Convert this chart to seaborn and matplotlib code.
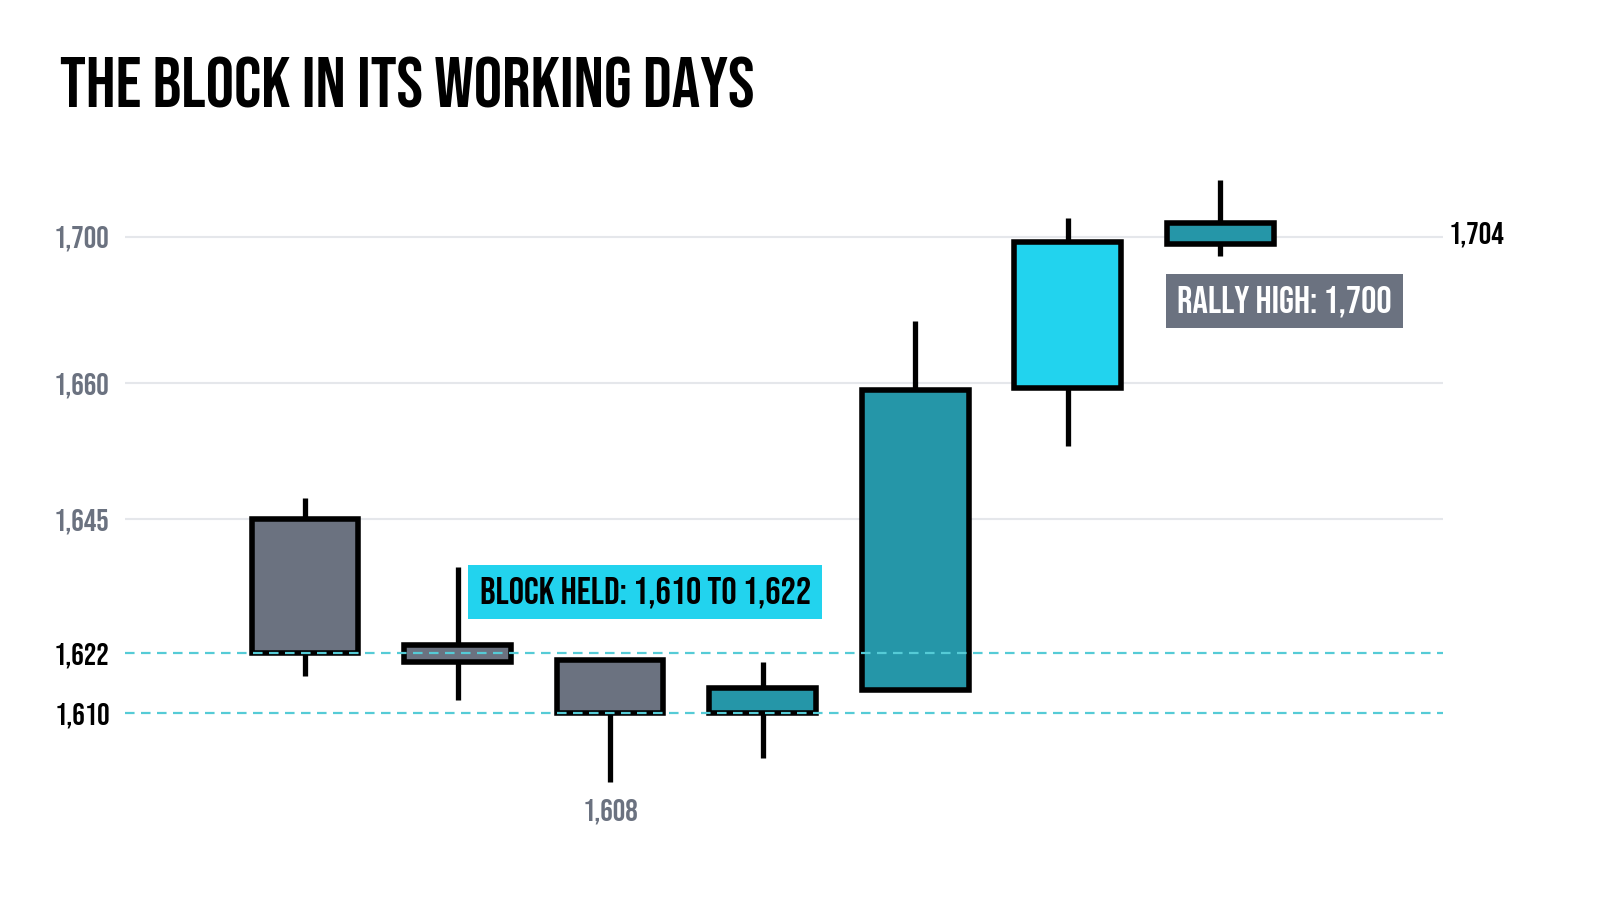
import numpy as np
import matplotlib
matplotlib.use("Agg")
import matplotlib.pyplot as plt
import matplotlib.transforms as mtransforms
import seaborn as sns

# ---- data ----
days = [0, 1, 2, 3, 4, 5, 6]
opens = [1645.0, 1623.4, 1620.6, 1610.0, 1614.6, 1659.4, 1698.1]
closes = [1622.0, 1620.2, 1610.0, 1615.0, 1659.2, 1698.6, 1701.0]
highs = [1647.3, 1636.8, 1620.6, 1620.2, 1677.0, 1701.3, 1704.0]
lows = [1617.4, 1612.6, 1608.0, 1608.7, 1614.6, 1653.0, 1694.8]
tick_values = [1610, 1622, 1645, 1660, 1700]
tick_labels = ["1,610", "1,622", "1,645", "1,660", "1,700"]
block_low, block_high = 1610, 1622
rally_high_label = "RALLY HIGH: 1,700"
block_label = "BLOCK HELD: 1,610 TO 1,622"
last_label = "1,704"
low_label = "1,608"
highlight_day = 5

# ---- scale (piecewise, emphasises the block zone) ----
scale_vals = np.array([1600, 1608, 1610, 1622, 1645, 1660, 1700, 1704, 1712])
scale_pos = np.array([1058, 782, 713, 653, 519, 383, 237, 180, 66])


def fwd(v):
    return -np.interp(v, scale_vals, scale_pos)


def inv(u):
    return np.interp(u, -scale_pos, scale_vals)


sns.set_theme(style="white")
cond = ["Bebas Neue", "Oswald", "DejaVu Sans"]
plt.rcParams["font.family"] = cond

GRAY = "#6b7280"
TEAL = "#2596a8"
CYAN = "#22d3ee"
DASH = "#55cbd6"

fig = plt.figure(figsize=(16, 9.14), dpi=100)
ax = fig.add_axes([125 / 1600, 1 - 830 / 914, (1443 - 125) / 1600, (830 - 165) / 914])
ax.set_yscale("function", functions=(fwd, inv))
ax.set_xlim(-1.18, 7.46)
ax.set_ylim(inv(-830), inv(-165))

# grid lines
for v in [1645, 1660, 1700]:
    ax.axhline(v, color="#e5e7eb", lw=1.5, zorder=1)
for v in [block_low, block_high]:
    ax.axhline(v, color=DASH, lw=1.6, dashes=(4.3, 2.9), zorder=5)

# candles
colors = []
for i, (o, c) in enumerate(zip(opens, closes)):
    if i == highlight_day:
        colors.append(CYAN)
    elif c < o:
        colors.append(GRAY)
    else:
        colors.append(TEAL)

ax.vlines(days, lows, highs, color="black", lw=3.8, zorder=2)
bottoms = [min(o, c) for o, c in zip(opens, closes)]
heights = [abs(c - o) for o, c in zip(opens, closes)]
ax.bar(days, heights, bottom=bottoms, width=0.70, color=colors,
       edgecolor="black", linewidth=4.0, zorder=3)

# y ticks
ax.set_yticks(tick_values)
ax.set_yticklabels(tick_labels)
ax.tick_params(axis="y", length=0, pad=11)
for lab, v in zip(ax.get_yticklabels(), tick_values):
    lab.set_color("black" if v in (block_low, block_high) else GRAY)
    lab.set_fontsize(22.5)
ax.set_xticks([])
sns.despine(ax=ax, left=True, bottom=True)

# annotations
ax.text(2.23, 1632.5, block_label, ha="center", va="center", fontsize=27.5,
        color="black", zorder=6,
        bbox=dict(boxstyle="square,pad=0.3", fc=CYAN, ec="none"))
ax.text(6.42, 1682.5, rally_high_label, ha="center", va="center", fontsize=27.5,
        color="white", zorder=6,
        bbox=dict(boxstyle="square,pad=0.3", fc=GRAY, ec="none"))
ax.annotate(low_label, xy=(2, 1608), xytext=(0, -21), textcoords="offset points",
            ha="center", va="center", fontsize=22.5, color=GRAY)
trans = mtransforms.blended_transform_factory(ax.transAxes, ax.transData)
ax.text(1.0045, 1700.2, last_label, transform=trans, ha="left", va="center",
        fontsize=22.5, color="black", clip_on=False)

fig.text(60 / 1600, 1 - 108 / 914, "THE BLOCK IN ITS WORKING DAYS", ha="left",
         va="baseline", fontsize=51, color="black")

fig.savefig("out.png", dpi=100, facecolor="white")
